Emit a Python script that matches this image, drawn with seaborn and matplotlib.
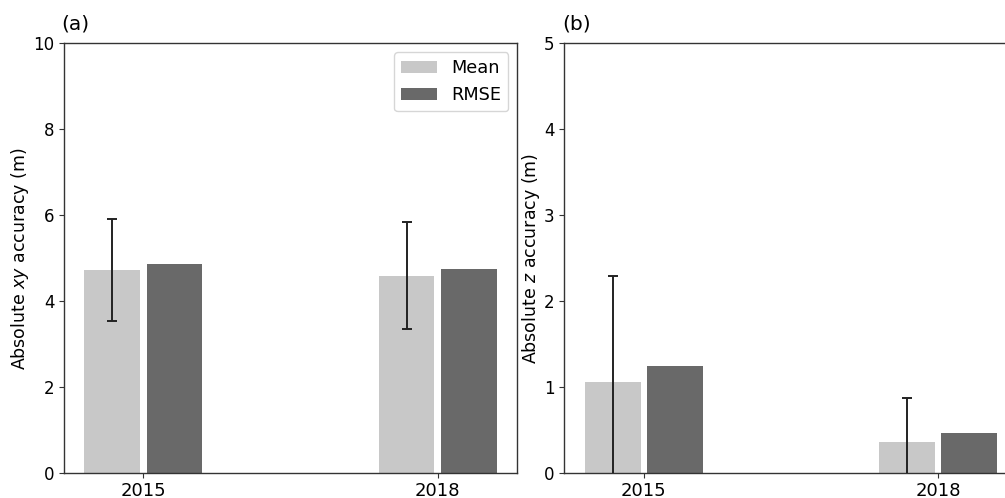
import seaborn as sns
import pandas as pd
import matplotlib.pyplot as plt
import numpy as np

# values
years = ['2015', '2018']
stats = ['Mean', 'RMSE']
xy_mean = [4.73, 4.60]
xy_std = [1.19, 1.245]
xy_rmse = [4.86, 4.76]
z_mean = [1.06, 0.36]
z_std = [1.24, 0.51]
z_rmse = [1.25, 0.47]

sns.set_style('white')
plt.rcParams['font.family'] = ['DejaVu Sans']
plt.rcParams['mathtext.default'] = 'it'
plt.rcParams['axes.edgecolor'] = '#333333'
plt.rcParams['axes.linewidth'] = 1.0
plt.rcParams['xtick.bottom'] = True
plt.rcParams['ytick.left'] = True
for key in ['text.color', 'axes.labelcolor', 'xtick.color', 'ytick.color']:
    plt.rcParams[key] = 'black'

colors = {'Mean': '#c8c8c8', 'RMSE': '#696969'}

fig = plt.figure(figsize=(10.05, 4.98), dpi=100)
ax_a = fig.add_axes([64 / 1005, 0.0496, 453 / 1005, 0.8634])
ax_b = fig.add_axes([564.3 / 1005, 0.0496, 453 / 1005, 0.8634])


def draw_panel(ax, mean, std, rmse, ymax, ylabel, tag, legend):
    df = pd.DataFrame({
        'year': years * 2,
        'stat': ['Mean'] * len(years) + ['RMSE'] * len(years),
        'value': list(mean) + list(rmse),
    })
    sns.barplot(data=df, x='year', y='value', hue='stat', hue_order=stats,
                palette=colors, width=0.4224, gap=0.1, errorbar=None,
                saturation=1, edgecolor='none', ax=ax, legend=legend)
    # error bars sit on the Mean bars
    mean_bars = ax.containers[0]
    xs = [p.get_x() + p.get_width() / 2 for p in mean_bars]
    ax.errorbar(xs, mean, yerr=std, fmt='none', ecolor='#222222',
                elinewidth=1.4, capsize=3.5, capthick=1.4, zorder=5)
    ax.set_xlim(-0.27, 1.27)
    ax.set_ylim(0, ymax)
    ax.set_yticks(np.arange(0, ymax + 1, 2 if ymax > 5 else 1))
    ax.set_xlabel('')
    ax.set_ylabel(ylabel, fontsize=12.5, labelpad=1.5)
    ax.tick_params(axis='x', labelsize=13, length=3.5, width=0.8,
                   color='#333333', pad=2.5)
    ax.tick_params(axis='y', labelsize=12, length=3.5, width=0.8,
                   color='#333333')
    ax.text(-0.005, 1.022, tag, transform=ax.transAxes, fontsize=14.5,
            va='bottom', ha='left')
    if legend:
        leg = ax.legend(loc='upper right', fontsize=12.8, frameon=True,
                        edgecolor='#cccccc')
        leg.set_title(None)


draw_panel(ax_a, xy_mean, xy_std, xy_rmse, 10, 'Absolute $xy$ accuracy (m)', '(a)', True)
draw_panel(ax_b, z_mean, z_std, z_rmse, 5, 'Absolute $z$ accuracy (m)', '(b)', False)

fig.savefig('out.png', dpi=100)
